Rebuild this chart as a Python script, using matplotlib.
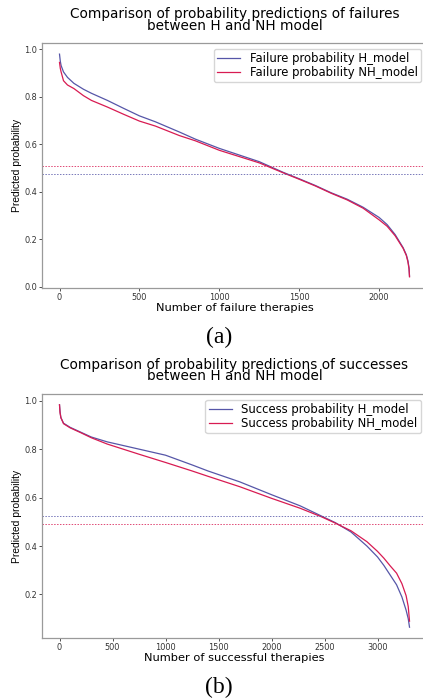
import matplotlib
matplotlib.use("Agg")
import matplotlib.pyplot as plt

# failures (panel a)
fail_x = [0, 5, 10, 25, 50, 90, 150, 200, 300, 400, 500, 600, 750, 850, 1000,
          1250, 1400, 1500, 1600, 1700, 1800, 1900, 2000, 2050, 2100, 2150,
          2170, 2180, 2187, 2190]
fail_h = [0.98, 0.95, 0.932, 0.905, 0.882, 0.857, 0.832, 0.815, 0.785, 0.752,
          0.72, 0.695, 0.652, 0.622, 0.583, 0.527, 0.482, 0.455, 0.427, 0.396,
          0.369, 0.335, 0.292, 0.262, 0.22, 0.165, 0.135, 0.11, 0.08, 0.045]
fail_nh = [0.945, 0.92, 0.905, 0.868, 0.85, 0.835, 0.805, 0.785, 0.757, 0.727,
           0.698, 0.677, 0.637, 0.615, 0.575, 0.522, 0.48, 0.453, 0.425, 0.394,
           0.366, 0.331, 0.282, 0.255, 0.215, 0.162, 0.132, 0.105, 0.075, 0.042]
fail_thr_h = 0.477
fail_thr_nh = 0.51

# successes (panel b)
succ_x = [0, 5, 13, 38, 100, 200, 300, 450, 750, 1000, 1250, 1400, 1700, 2000,
          2270, 2475, 2600, 2750, 2900, 3000, 3060, 3120, 3180, 3230, 3270,
          3290, 3302]
succ_h = [0.983, 0.955, 0.93, 0.907, 0.89, 0.87, 0.85, 0.83, 0.80, 0.775,
          0.735, 0.71, 0.665, 0.612, 0.566, 0.523, 0.497, 0.458, 0.40, 0.355,
          0.32, 0.28, 0.24, 0.19, 0.135, 0.10, 0.065]
succ_nh = [0.983, 0.95, 0.93, 0.905, 0.888, 0.868, 0.847, 0.821, 0.779, 0.745,
           0.71, 0.688, 0.645, 0.597, 0.556, 0.52, 0.495, 0.463, 0.418, 0.378,
           0.35, 0.318, 0.288, 0.245, 0.195, 0.15, 0.09]
succ_thr_h = 0.524
succ_thr_nh = 0.49

BLUE = "#5656a8"
RED = "#d81b52"


def draw_panel(ax, x, h, nh, thr_h, thr_nh, kind, title, xlabel):
    ax.plot(x, h, color=BLUE, lw=0.9, label=kind + " probability H_model")
    ax.plot(x, nh, color=RED, lw=0.9, label=kind + " probability NH_model")
    ax.axhline(thr_h, color=BLUE, lw=0.7, linestyle=(0, (1.5, 1.5)), alpha=0.8)
    ax.axhline(thr_nh, color=RED, lw=0.7, linestyle=(0, (1.5, 1.5)), alpha=0.8)

    for s in ax.spines.values():
        s.set_color("#9a9a9a")
        s.set_linewidth(0.9)
    ax.tick_params(labelsize=5.9, colors="#333333", length=2, width=0.6, pad=1.5)
    ax.set_title(title, fontsize=9.8, linespacing=0.8, pad=9.5)
    ax.set_xlabel(xlabel, fontsize=8.2, labelpad=0.5)
    ax.set_ylabel("Predicted probability", fontsize=7.4, family="Liberation Sans",
                  labelpad=1.5)
    ax.legend(loc="upper right", fontsize=8.4, labelspacing=0.05, borderpad=0.3,
              handletextpad=0.8)


fig = plt.figure(figsize=(4.23, 6.99), dpi=100)
ax1 = fig.add_axes([0.0993, 0.588, 0.9102, 0.3505])
ax2 = fig.add_axes([0.0993, 0.0868, 0.9102, 0.35])

draw_panel(ax1, fail_x, fail_h, fail_nh, fail_thr_h, fail_thr_nh, "Failure",
           "Comparison of probability predictions of failures\nbetween H and NH model",
           "Number of failure therapies")
draw_panel(ax2, succ_x, succ_h, succ_nh, succ_thr_h, succ_thr_nh, "Success",
           "Comparison of probability predictions of successes\nbetween H and NH model",
           "Number of successful therapies")
ax1.set_yticks([0.0, 0.2, 0.4, 0.6, 0.8, 1.0])
ax2.set_yticks([0.2, 0.4, 0.6, 0.8, 1.0])

fig.text(0.518, 1 - 337 / 699, "(a)", family="Liberation Serif", fontsize=17,
         ha="center", va="center")
fig.text(0.518, 1 - 687 / 699, "(b)", family="Liberation Serif", fontsize=17,
         ha="center", va="center")

fig.savefig("out.png", dpi=100)
